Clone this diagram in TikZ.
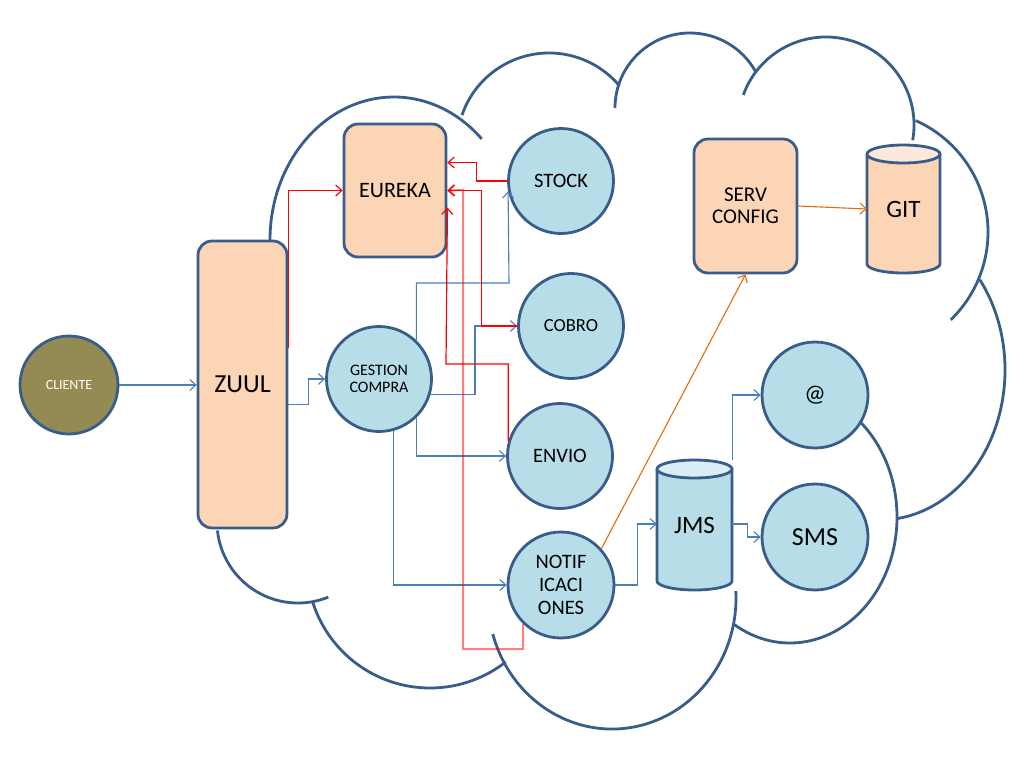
\documentclass[tikz,border=0pt]{standalone}
\usepackage{fontspec}
\setmainfont{Carlito}
\usetikzlibrary{arrows.meta}
\definecolor{bordc}{RGB}{56,93,138}
\definecolor{peach}{RGB}{251,213,181}
\definecolor{peachtop}{RGB}{253,233,217}
\definecolor{lblue}{RGB}{183,221,232}
\definecolor{lbluetop}{RGB}{219,238,243}
\definecolor{olivec}{RGB}{148,138,84}
\definecolor{conblue}{RGB}{74,126,187}
\definecolor{conorange}{RGB}{228,108,10}
\pgfdeclarelayer{bg}
\pgfsetlayers{bg,main}
\newcommand{\fs}[2]{\fontsize{#1}{#2}\selectfont}
\newcommand{\lobe}[6]{\draw[cloudline] (#1,#2) ++(#5:#3 and #4) arc[start angle=#5,end angle=#6,x radius=#3,y radius=#4];}
\begin{document}
\begin{tikzpicture}[x=1pt,y=-1pt,
  box/.style={draw=bordc, line width=2.8pt, fill=peach, rounded corners=14pt, inner sep=0pt, align=center},
  ball/.style={circle, draw=bordc, line width=2.8pt, fill=lblue, inner sep=0pt, align=center, minimum size=105pt},
  cloudline/.style={draw=bordc, line width=2.8pt},
  tip/.style={-{Straight Barb[length=6pt,width=11pt]}},
  bl/.style={draw=conblue, line width=1.1pt, tip},
  rd/.style={draw=red, line width=1.2pt, tip},
  pk/.style={draw=red, draw opacity=0.5, line width=2pt, tip},
  og/.style={draw=conorange, line width=1.1pt, tip}
]
\useasboundingbox (0,0) rectangle (1024,768);

% cylinders
\fill[peach] (867,154) -- (867,264) arc[start angle=180,end angle=0,x radius=36.5,y radius=9] -- (940,154) -- cycle;
\draw[draw=bordc, line width=2.8pt] (867,154) -- (867,264) arc[start angle=180,end angle=0,x radius=36.5,y radius=9] -- (940,154);
\filldraw[fill=peachtop, draw=bordc, line width=2.8pt] (903.5,154) ellipse [x radius=36.5, y radius=9];
\node[inner sep=0pt, minimum width=73pt, minimum height=128pt, font=\fs{25}{28}] (git) at (903.5,209) {\raisebox{-4pt}{GIT}};

\fill[lblue] (657,469) -- (657,581) arc[start angle=180,end angle=0,x radius=37.5,y radius=9] -- (732,469) -- cycle;
\draw[draw=bordc, line width=2.8pt] (657,469) -- (657,581) arc[start angle=180,end angle=0,x radius=37.5,y radius=9] -- (732,469);
\filldraw[fill=lbluetop, draw=bordc, line width=2.8pt] (694.5,469) ellipse [x radius=37.5, y radius=9];
\node[inner sep=0pt, minimum width=75pt, minimum height=130pt, font=\fs{25}{28}] (jms) at (694.5,525) {\raisebox{-4pt}{JMS}};

% nodes
\node[circle, draw=bordc, line width=2.8pt, fill=olivec, minimum size=98pt, inner sep=0pt, text=white, font=\fs{14}{16}] (cliente) at (69,385) {CLIENTE};
\node[box, minimum width=89pt, minimum height=287pt, font=\fs{26}{29}] (zuul) at (242.5,384.5) {ZUUL};
\node[box, minimum width=102pt, minimum height=133pt, font=\fs{22}{25}] (eureka) at (395,190.5) {EUREKA};
\node[box, minimum width=103pt, minimum height=134pt, font=\fs{21}{22}] (serv) at (745.5,206) {SERV\\CONFIG};
\node[ball, font=\fs{16}{17}] (gestion) at (379,379) {GESTION\\COMPRA};
\node[ball, font=\fs{20.5}{23}] (stock) at (561,181) {STOCK};
\node[ball, font=\fs{18.5}{21}] (cobro) at (571,326) {COBRO};
\node[ball, font=\fs{20.5}{23}] (envio) at (560,456) {ENVIO};
\node[ball, minimum size=106pt, font=\fs{20.5}{23}] (notif) at (561,585) {NOTIF\\ICACI\\ONES};
\node[ball, minimum size=106pt, font=\fs{24}{27}] (at) at (815,395) {@};
\node[ball, minimum size=106pt, font=\fs{26}{29}] (sms) at (815,537) {SMS};

% cloud
\begin{pgfonlayer}{bg}
\lobe{394}{240}{124}{143}{180}{315}
\lobe{549}{145}{92}{92}{199}{320}
\lobe{690}{108}{75}{75}{180}{331}
\lobe{826}{125}{88}{88}{200}{370}
\lobe{866}{232}{122}{122}{294}{406}
\lobe{880}{370}{125}{150}{323}{442}
\lobe{790}{517}{107}{126}{311}{482}
\lobe{612}{598}{124}{131}{164}{-3}
\lobe{430}{565}{123}{123}{163}{52}
\lobe{298}{522}{81}{81}{174}{68}
\end{pgfonlayer}

% blue connectors
\draw[bl] (cliente.east) -- (zuul.west |- cliente.east);
\draw[bl] ([yshift=-20pt]zuul.east) -- ++(20,0) |- (gestion.west);
\draw[bl] (gestion.46) |- (509,283) -- (stock.191);
\draw[bl] (gestion.-17) -| (475,326) -- (cobro.west);
\draw[bl] (gestion.-46) |- (envio.west);
\draw[bl] (gestion.-74) |- (notif.west);
\draw[bl] (notif.east) -- ++(22,0) |- ([yshift=1pt]jms.west);
\draw[bl] (jms.north east) |- (at.west);
\draw[bl] ([yshift=1pt]jms.east) -- ++(15,0) |- (sms.west);

% orange connectors
\draw[og] (serv.east) -- (git.west);
\draw[og] (notif.42) -- (serv.south);

% red connectors
\draw[rd] ([yshift=37pt]zuul.east) |- (eureka.west);
\draw[rd] (stock.west) -- ++(-31,0) |- ([yshift=28pt]eureka.east);
\draw[rd] (cobro.west) -- ++(-36,0) |- (eureka.east);
\draw[rd] (envio.164) |- (446,364) -- ([yshift=-17pt]eureka.east);
\draw[pk] (notif.226) -- ++(0,25) -| (463,190) -- (eureka.east);
\end{tikzpicture}
\end{document}
